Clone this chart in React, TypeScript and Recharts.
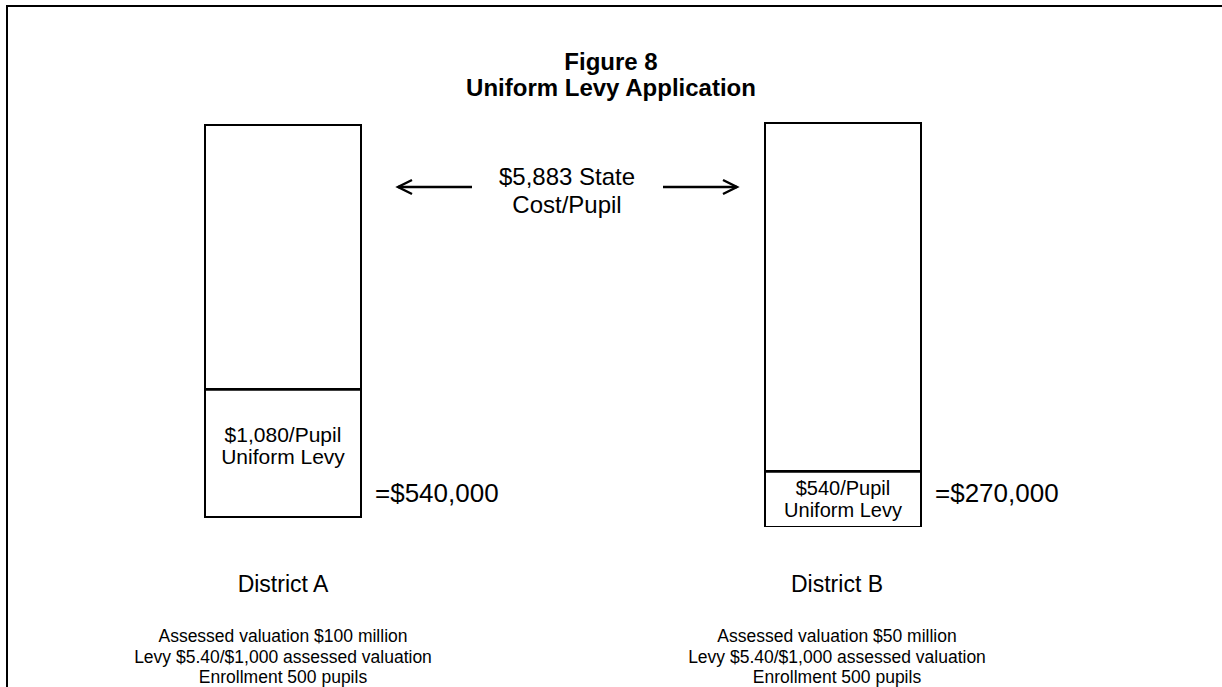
import React from 'react';
import { BarChart, Bar, XAxis, YAxis, LabelList } from 'recharts';

const FONT = '"Liberation Sans", Arial, Helvetica, sans-serif';

// Categories
const districts = ['District A', 'District B'];
// Schematic bar segments (drawing units; the figure is not to scale)
const baseOffset = [10, 0];
const levyHeight = [128, 56];
const remainderHeight = [264, 348];
// Text content
const levyPerPupil = ['$1,080/Pupil', '$540/Pupil'];
const levyLabel = ['Uniform Levy', 'Uniform Levy'];
const levyTotal = ['=$540,000', '=$270,000'];
const assessedValuation = ['Assessed valuation $100 million', 'Assessed valuation $50 million'];
const levyRate = ['Levy $5.40/$1,000 assessed valuation', 'Levy $5.40/$1,000 assessed valuation'];
const enrollment = ['Enrollment 500 pupils', 'Enrollment 500 pupils'];
const stateCostLines = ['$5,883 State', 'Cost/Pupil'];
const titleLines = ['Figure 8', 'Uniform Levy Application'];

// style tweaks per district
const innerFont = [21, 20];
const innerShift = [-7, 0];
const tickShift = [0, -6];

const data = districts.map((d, i) => ({
  name: d,
  base: baseOffset[i],
  levy: levyHeight[i],
  rest: remainderHeight[i],
}));

const DistrictTick = (props: any) => {
  const { x, y, payload } = props;
  const i = districts.indexOf(payload.value);
  const cx = x + tickShift[i];
  const common = { x: cx, textAnchor: 'middle' as const, fill: '#000', fontFamily: FONT };
  return (
    <g>
      <text {...common} y={y + 65} fontSize={23}>{payload.value}</text>
      <text {...common} y={y + 115} fontSize={17.5}>{assessedValuation[i]}</text>
      <text {...common} y={y + 135.5} fontSize={17.5}>{levyRate[i]}</text>
      <text {...common} y={y + 156} fontSize={17.5}>{enrollment[i]}</text>
    </g>
  );
};

const LevyShape = (props: any) => {
  const { x, y, width, height } = props;
  return (
    <g>
      <rect x={x} y={y} width={width} height={height} fill="#fff" stroke="#000" strokeWidth={2} />
      <line x1={x - 1} x2={x + width + 1} y1={y} y2={y} stroke="#000" strokeWidth={3.5} />
    </g>
  );
};

const LevyLabel = (props: any) => {
  const { x, y, width, height, index } = props;
  const mid = y + height / 2 + innerShift[index];
  const cx = x + width / 2;
  return (
    <g fontFamily={FONT} fill="#000">
      <text x={cx} y={mid - 4} textAnchor="middle" fontSize={innerFont[index]}>{levyPerPupil[index]}</text>
      <text x={cx} y={mid + 18} textAnchor="middle" fontSize={innerFont[index]}>{levyLabel[index]}</text>
      <text x={x + width + 14} y={502} textAnchor="start" fontSize={26}>{levyTotal[index]}</text>
    </g>
  );
};

const Arrow = ({ x1, x2, y }: { x1: number; x2: number; y: number }) => {
  const dir = x2 > x1 ? 1 : -1;
  return (
    <g stroke="#000" strokeWidth={2.4} fill="none">
      <line x1={x1} y1={y} x2={x2} y2={y} />
      <polyline points={`${x2 - dir * 14},${y - 7} ${x2},${y} ${x2 - dir * 14},${y + 7}`} />
    </g>
  );
};

export default function App() {
  return (
    <div
      style={{
        position: 'absolute',
        left: 0,
        top: 0,
        width: 1222,
        height: 687,
        overflow: 'hidden',
        background: '#fff',
      }}
    >
      <div
        style={{
          position: 'absolute',
          left: 6,
          top: 5,
          width: 1400,
          height: 900,
          borderLeft: '2px solid #000',
          borderTop: '2px solid #000',
        }}
      />
      <div style={{ position: 'absolute', left: 0, top: 0 }}>
        <BarChart
          width={1222}
          height={687}
          data={data}
          margin={{ top: 117, right: 99, bottom: 0, left: 3 }}
          barSize={156}
        >
          <XAxis
            dataKey="name"
            height={160}
            axisLine={false}
            tickLine={false}
            tickSize={0}
            tickMargin={0}
            interval={0}
            tick={<DistrictTick />}
          />
          <YAxis hide domain={[0, 410]} allowDataOverflow />
          <Bar dataKey="base" stackId="s" fill="none" stroke="none" isAnimationActive={false} />
          <Bar dataKey="levy" stackId="s" shape={<LevyShape />} isAnimationActive={false}>
            <LabelList dataKey="levy" content={<LevyLabel />} />
          </Bar>
          <Bar dataKey="rest" stackId="s" fill="#fff" stroke="#000" strokeWidth={2} isAnimationActive={false} />
        </BarChart>
      </div>
      <svg
        width={1222}
        height={687}
        style={{ position: 'absolute', left: 0, top: 0, pointerEvents: 'none' }}
      >
        <text x={611} y={70} textAnchor="middle" fontSize={24} fontWeight="bold" fontFamily={FONT}>
          {titleLines[0]}
        </text>
        <text x={611} y={96} textAnchor="middle" fontSize={24} fontWeight="bold" fontFamily={FONT}>
          {titleLines[1]}
        </text>
        <text x={567} y={185} textAnchor="middle" fontSize={24} fontFamily={FONT}>
          {stateCostLines[0]}
        </text>
        <text x={567} y={213} textAnchor="middle" fontSize={24} fontFamily={FONT}>
          {stateCostLines[1]}
        </text>
        <Arrow x1={472} x2={398} y={187} />
        <Arrow x1={663} x2={737} y={187} />
      </svg>
    </div>
  );
}
